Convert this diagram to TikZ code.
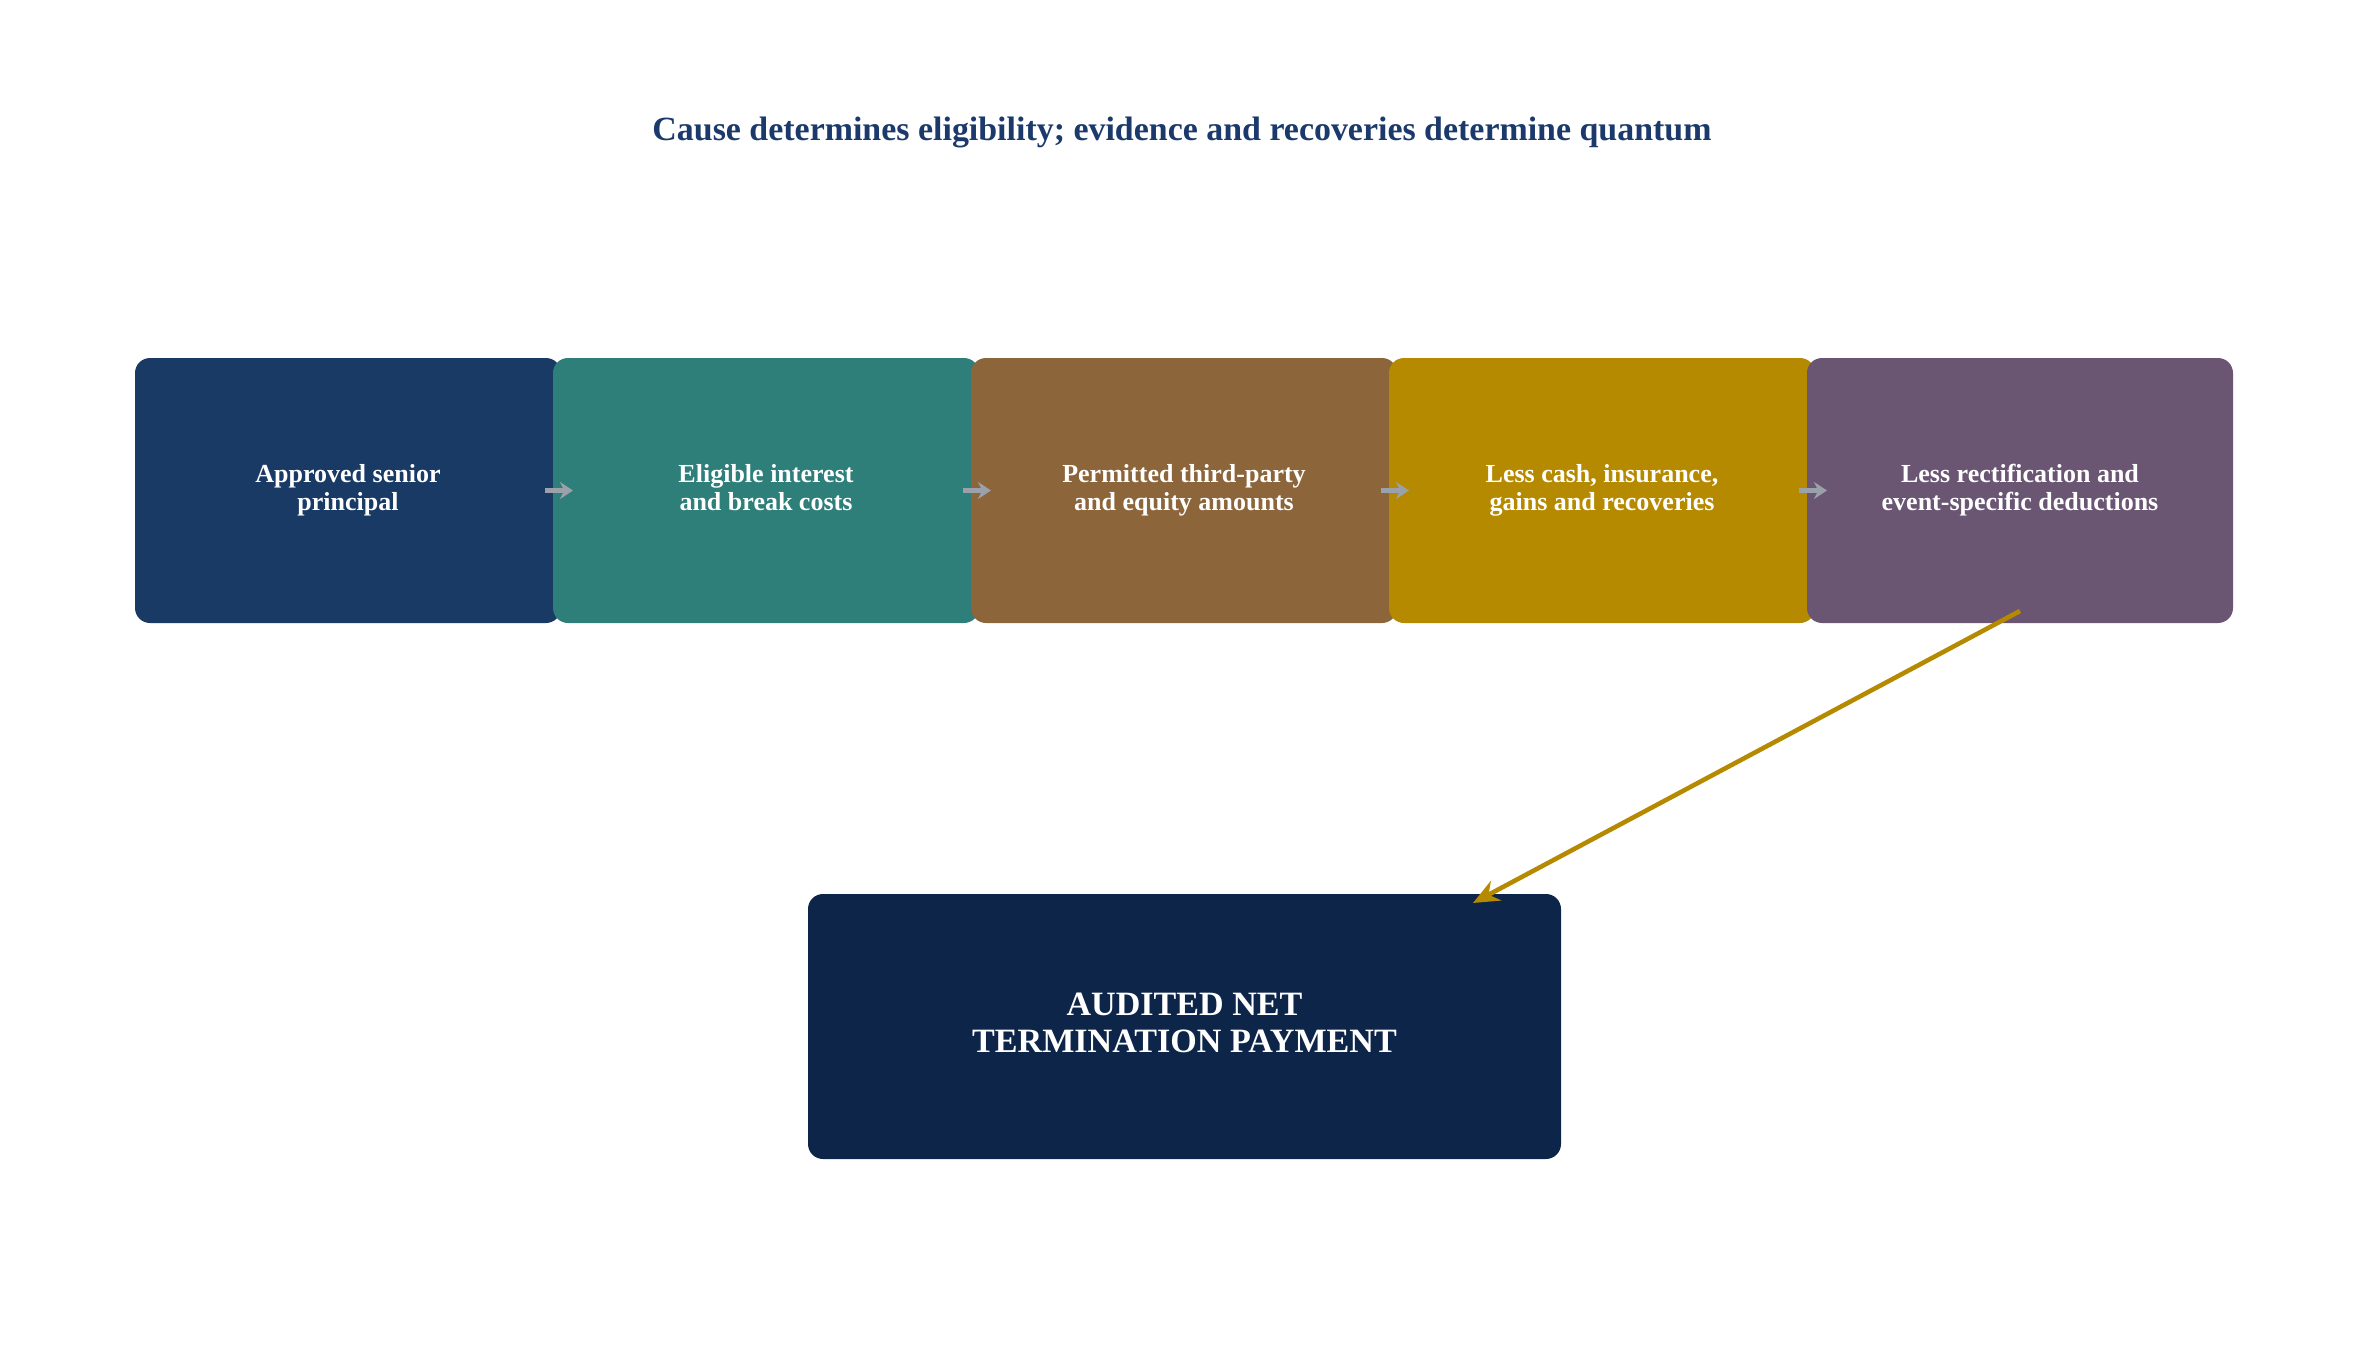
\documentclass[tikz,border=0pt]{standalone}
\usepackage{fontspec}
\setmainfont{Liberation Serif}
\usepackage{xcolor}
\usepackage{tikz}
\usetikzlibrary{positioning, arrows.meta}

\definecolor{titleblue}{HTML}{1B3A6B}
\definecolor{navyA}{HTML}{1A3A66}
\definecolor{tealA}{HTML}{2E7E7A}
\definecolor{brownA}{HTML}{8C653A}
\definecolor{goldA}{HTML}{B58A00}
\definecolor{plumA}{HTML}{6A5673}
\definecolor{navyB}{HTML}{0D2549}
\definecolor{arrowgray}{HTML}{9AA1AA}

\newcommand{\twolines}[2]{#1\strut\\#2\strut}

\begin{document}
\begin{tikzpicture}[auto, thick, >=Stealth,
    stage/.style={rectangle, rounded corners=0.15cm, minimum width=4.26cm, minimum height=2.65cm,
        text=white, align=center, font=\bfseries\fontsize{7.4}{8}\selectfont, inner sep=0pt, outer sep=0pt},
    flow/.style={arrowgray, line width=1.2pt, -{Stealth[length=0.13cm, width=0.17cm]}},
    payout/.style={goldA, line width=1.3pt, -{Stealth[length=0.26cm, width=0.22cm]}}]
                \useasboundingbox (0,0) rectangle (23.63,-13.51);
                \node [text=titleblue, font=\bfseries\fontsize{9.65}{11}\selectfont] (title) at (11.82,-1.32) {Cause determines eligibility; evidence and recoveries determine quantum};
                \node [stage, fill=navyA] (principal) at (3.48,-4.905) {\twolines{Approved senior}{principal}};
                \node [stage, fill=tealA, right=-0.08cm of principal] (interest) {\twolines{Eligible interest}{and break costs}};
                \node [stage, fill=brownA, right=-0.08cm of interest] (equity) {\twolines{Permitted third-party}{and equity amounts}};
                \node [stage, fill=goldA, right=-0.08cm of equity] (recoveries) {\twolines{Less cash, insurance,}{gains and recoveries}};
                \node [stage, fill=plumA, right=-0.08cm of recoveries] (deductions) {\twolines{Less rectification and}{event-specific deductions}};
                \node [stage, fill=navyB, minimum width=7.53cm, font=\bfseries\fontsize{9.7}{10.6}\selectfont] (payment) at (11.845,-10.265) {\twolines{AUDITED NET}{TERMINATION PAYMENT}};
                \draw [flow] ([xshift=-0.16cm]principal.east) -- ([xshift=0.2cm]interest.west);
                \draw [flow] ([xshift=-0.16cm]interest.east) -- ([xshift=0.2cm]equity.west);
                \draw [flow] ([xshift=-0.16cm]equity.east) -- ([xshift=0.2cm]recoveries.west);
                \draw [flow] ([xshift=-0.16cm]recoveries.east) -- ([xshift=0.2cm]deductions.west);
                \draw [payout] ([yshift=0.12cm]deductions.south) -- ([xshift=-0.88cm, yshift=-0.09cm]payment.north east);
            \end{tikzpicture}
\end{document}
